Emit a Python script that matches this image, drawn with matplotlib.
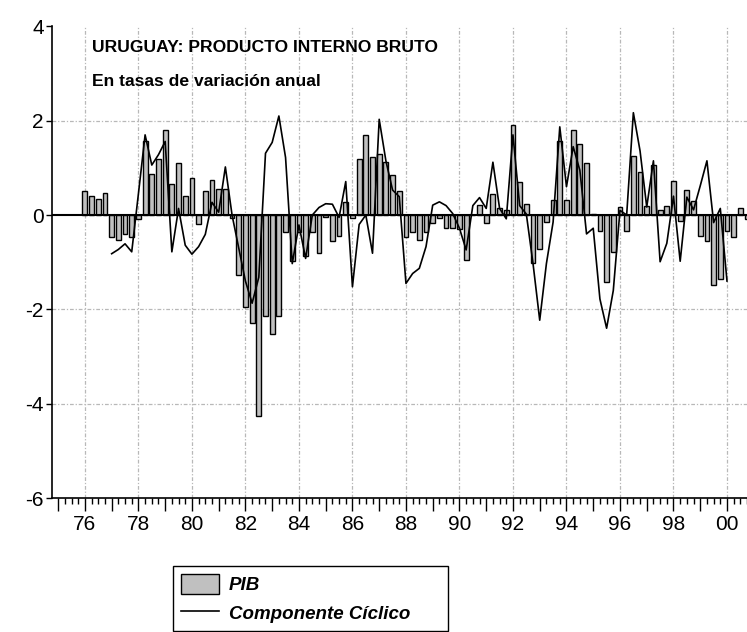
import numpy as np
import matplotlib
matplotlib.use("agg")
from matplotlib import pyplot as plt
from matplotlib.patches import Patch
from matplotlib.lines import Line2D

plt.rcParams['font.family'] = ['Liberation Sans', 'DejaVu Sans']

# quarterly data, 1976Q1 - 2000Q4
start_year = 1976
pib = [0.52, 0.41, 0.35, 0.47, -0.47, -0.52, -0.40, -0.47,
       -0.09, 1.57, 0.88, 1.19, 1.80, 0.65, 1.10, 0.41,
       0.79, -0.18, 0.52, 0.75, 0.55, 0.55, -0.07, -1.28,
       -1.94, -2.28, -4.26, -2.14, -2.52, -2.14, -0.37, -0.97,
       -0.35, -0.86, -0.37, -0.81, -0.04, -0.54, -0.44, 0.28,
       -0.07, 1.19, 1.70, 1.23, 1.30, 1.12, 0.85, 0.51,
       -0.47, -0.37, -0.52, -0.35, -0.17, -0.07, -0.27, -0.27,
       -0.30, -0.95, 0.00, 0.21, -0.17, 0.45, 0.15, 0.11,
       1.91, 0.69, 0.24, -1.02, -0.72, -0.14, 0.32, 1.58,
       0.32, 1.80, 1.51, 1.10, 0.02, -0.34, -1.43, -0.78,
       0.16, -0.34, 1.26, 0.92, 0.20, 1.06, 0.11, 0.20,
       0.72, -0.13, 0.54, 0.30, -0.45, -0.54, -1.48, -1.36,
       -0.34, -0.47, 0.14, -0.09]

# cyclical component, 1977Q1 - 2000Q1
ciclo_start = 1977
ciclo = [-0.82, -0.73, -0.61, -0.78, 0.45, 1.70, 1.06, 1.28,
         1.56, -0.78, 0.14, -0.64, -0.83, -0.67, -0.41, 0.27,
         0.06, 1.02, 0.00, -0.70, -1.40, -1.87, -1.32, 1.31,
         1.54, 2.10, 1.22, -1.03, -0.21, -0.92, 0.00, 0.16,
         0.24, 0.23, -0.05, 0.71, -1.52, -0.20, 0.00, -0.81,
         2.03, 1.15, 0.53, 0.39, -1.45, -1.24, -1.13, -0.67,
         0.21, 0.28, 0.20, 0.03, -0.28, -0.74, 0.20, 0.37,
         0.14, 1.12, 0.14, -0.08, 1.70, 0.20, 0.02, -1.03,
         -2.23, -1.03, -0.15, 1.87, 0.60, 1.45, 0.95, -0.40,
         -0.28, -1.78, -2.40, -1.60, 0.10, 0.00, 2.17, 1.36,
         0.17, 1.15, -0.99, -0.60, 0.40, -0.98, 0.38, 0.11,
         0.62, 1.15, -0.16, 0.14, -1.40]

year_labels = ['76', '78', '80', '82', '84', '86', '88', '90', '92', '94', '96', '98', '00']

t_pib = start_year + np.arange(len(pib)) / 4.0
t_ciclo = ciclo_start + np.arange(len(ciclo)) / 4.0

fig = plt.figure(figsize=(7.47, 6.32), dpi=100)
ax = fig.add_axes([52 / 747, 134 / 632, 701.75 / 747, 471.6 / 632])

# dash-dot grid, only every 2 units / every 2 years
grid_style = dict(color='#b8b8b8', lw=0.9, ls=(0, (3, 1.5, 1, 1.5)), zorder=0)
for y in [2, -2, -4]:
    ax.axhline(y, **grid_style)
for yr in range(1976, 2001, 2):
    ax.axvline(yr, **grid_style)

ax.bar(t_pib, pib, width=0.18, color='#c0c0c0', edgecolor='black', linewidth=1.0, zorder=2)
ax.axhline(0, color='black', lw=1.5, zorder=3)
ax.plot(t_ciclo, ciclo, color='black', lw=1.2, zorder=4)

ax.set_xlim(1974.77, 2001.0)
ax.set_ylim(-6, 4)

ax.set_xticks(np.arange(1975, 2001, 1))
ax.set_xticklabels([])
ax.set_xticks(np.arange(1975, 2001, 0.25), minor=True)
ax.tick_params(axis='x', which='major', length=9.5, width=1, direction='out')
ax.tick_params(axis='x', which='minor', length=4.5, width=1, direction='out')
# labels every two years
for yr, lab in zip(range(1976, 2001, 2), year_labels):
    ax.text(yr, -0.036, lab, transform=ax.get_xaxis_transform(), ha='center', va='top', fontsize=15)

ax.set_yticks([-6, -4, -2, 0, 2, 4])
ax.set_yticklabels(['-6', '-4', '-2', '0', '2', '4'])
ax.tick_params(axis='y', length=4, width=1, direction='out', labelsize=15, pad=2)

ax.spines['top'].set_visible(False)
ax.spines['right'].set_visible(False)
ax.spines['left'].set_linewidth(1.2)
ax.spines['bottom'].set_linewidth(1.2)

fig.text(92 / 747, 1 - 48 / 632, 'URUGUAY: PRODUCTO INTERNO BRUTO', fontsize=12.6, fontweight='bold', va='center')
fig.text(92 / 747, 1 - 82 / 632, 'En tasas de variación anual', fontsize=12.6, fontweight='bold', va='center')

handles = [Patch(facecolor='#c0c0c0', edgecolor='black', linewidth=1.0),
           Line2D([], [], color='black', lw=1.2)]
leg = fig.legend(handles, ['PIB', 'Componente Cíclico'], loc='upper left',
                 bbox_to_anchor=(173 / 747, 1 - 630 / 632, 275 / 747, 64 / 632), mode='expand',
                 prop=dict(weight='bold', style='italic', size=13.5),
                 frameon=True, fancybox=False, edgecolor='black', framealpha=1,
                 borderpad=0.42, handlelength=2.05, handleheight=1.25,
                 handletextpad=0.5, labelspacing=0.45, borderaxespad=0)
leg.get_frame().set_linewidth(1.0)

fig.savefig('out.png', dpi=100)
